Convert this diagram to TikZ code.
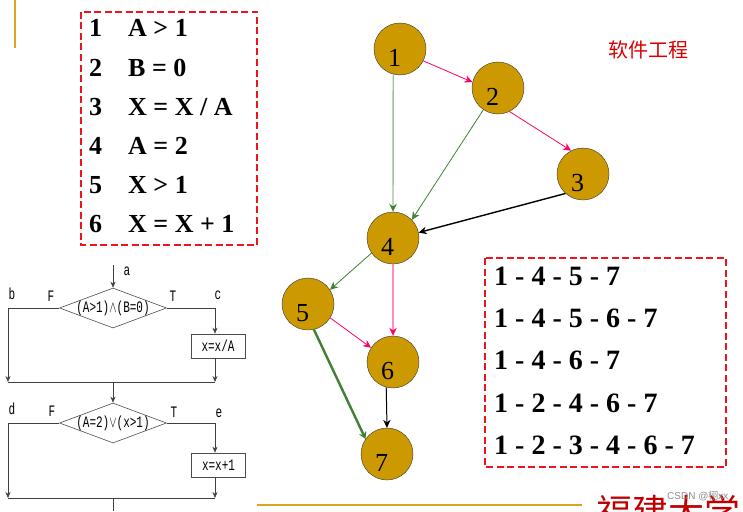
\documentclass[tikz,border=0pt]{standalone}
\usepackage{fontspec}
\usepackage{graphicx}
\setmainfont{Liberation Serif}
\newfontfamily\cjk{Noto Sans CJK SC}
\newfontfamily\flowfont{Liberation Mono}
\newfontfamily\markfont{Liberation Sans}
\usetikzlibrary{shapes.geometric, arrows.meta}
\definecolor{nodegold}{RGB}{204,153,0}
\definecolor{linegold}{RGB}{218,165,32}
\definecolor{edgepink}{RGB}{255,0,102}
\definecolor{edgegreen}{RGB}{64,128,50}
\definecolor{dashred}{RGB}{238,20,30}
\newcommand{\tallstr}[1]{\scalebox{1}[1.45]{#1}}
\tikzset{
    vnum/.style={font=\fontsize{26}{26}\selectfont, xshift=-5.5pt, yshift=-9pt, inner sep=0pt},
    vertex/.style={circle, draw=black!80, fill=nodegold, minimum size=52pt, inner sep=0pt,
        label={[vnum]center:#1}},
    pinkedge/.style={edgepink, line width=0.8pt, -{Stealth[length=8pt,width=7.5pt]}},
    greenedge/.style={edgegreen, line width=0.8pt, -{Stealth[length=8pt,width=7.5pt]}},
    blackedge/.style={black, line width=1pt, -{Stealth[length=8pt,width=7.5pt]}},
    dashbox/.style={draw=dashred, line width=1.6pt, dash pattern=on 7pt off 3.5pt},
    condline/.style={font=\bfseries\fontsize{26}{26}\selectfont, inner sep=0pt, anchor=base west},
    pathline/.style={font=\bfseries\fontsize{28}{28}\selectfont, inner sep=0pt, anchor=base west},
    flowtxt/.style={font=\flowfont\fontsize{11}{11}\selectfont, inner sep=0pt},
    cond/.style={diamond, draw=black!70, line width=0.6pt, aspect=2.7, inner sep=0pt,
        minimum width=107pt, minimum height=40pt, font=\flowfont\fontsize{11}{11}\selectfont},
    action/.style={rectangle, draw=black!70, line width=0.6pt, minimum width=54pt, minimum height=24pt,
        inner sep=0pt, font=\flowfont\fontsize{11}{11}\selectfont},
    flow/.style={black!75, line width=0.6pt},
    flowarrow/.style={flow, -{Stealth[length=6pt,width=5pt]}},
}
\begin{document}
\begin{tikzpicture}[x=1pt, y=-1pt, >=stealth]
    \useasboundingbox (0,0) rectangle (743,511);

    % page decoration
    \draw[linegold, line width=1.2pt] (15,0) -- (15,48);
    \draw[linegold, line width=1.2pt] (257,505) -- (582,505);
    \node[red!85!black, inner sep=0pt] (title) at (648,50)
        {\cjk\fontsize{20}{20}\selectfont 软件工程};
    \begin{scope}
        \clip (590,485) rectangle (743,511);
        \node[red!75!black, inner sep=0pt, anchor=west] (logo) at (596,512)
            {\cjk\fontsize{36}{36}\selectfont 福建大学};
    \end{scope}
    \node[black!45, inner sep=0pt, anchor=west] (mark) at (667,496)
        {\markfont\fontsize{10}{10}\selectfont CSDN @\cjk 栩\markfont xx};

    % conditions
    \draw[dashbox] (81,12) rectangle (257,245);
    \foreach \rowy/\num/\txt in {37/1/A > 1, 76/2/B = 0, 115/3/{X = X / A}, 154/4/A = 2, 193/5/X > 1, 232/6/X = X + 1} {
        \node[condline] at (89,\rowy) {\num};
        \node[condline] at (128,\rowy) {\txt};
    }

    % paths
    \draw[dashbox] (485,258) rectangle (726,467);
    \node[pathline] at (494,285) {1 - 4 - 5 - 7};
    \node[pathline] at (494,327) {1 - 4 - 5 - 6 - 7};
    \node[pathline] at (494,369) {1 - 4 - 6 - 7};
    \node[pathline] at (494,412) {1 - 2 - 4 - 6 - 7};
    \node[pathline] at (494,454) {1 - 2 - 3 - 4 - 6 - 7};

    % flow graph
    \node[vertex=1] (n1) at (400,49) {};
    \node[vertex=2] (n2) at (498,88) {};
    \node[vertex=3] (n3) at (583,174) {};
    \node[vertex=4] (n4) at (393,238) {};
    \node[vertex=5] (n5) at (308,304) {};
    \node[vertex=6] (n6) at (393,362) {};
    \node[vertex=7] (n7) at (387,454) {};

    \draw[pinkedge] (n1.-27) -- (n2.167);
    \draw[pinkedge] (n2.-64) -- (n3.117);
    \draw[greenedge, edgegreen!50, line width=1.4pt, -{Stealth[length=8pt,width=7.5pt,color=edgegreen]}] (n1.255) -- (n4.north);
    \draw[greenedge] (n2.236) -- (n4.44);
    \draw[blackedge, line width=1.4pt] (n3.228) -- (n4.12);
    \draw[greenedge] (n4.215) -- (n5.33);
    \draw[pinkedge, edgepink!45, line width=1.4pt, -{Stealth[length=8pt,width=7.5pt,color=edgepink]}] (n4) -- (n6);
    \draw[pinkedge] (n5.-32) -- (n6.147);
    \draw[greenedge, line width=2.4pt, -{Stealth[length=7pt,width=8pt]}] (n5.-77) -- (n7.145);
    \draw[blackedge] (n6.255) -- (n7.north);

    % program flow chart
    \coordinate (start) at (113,265);
    \node[cond] (d1) at (113,308) {\makebox[0pt]{\tallstr{(A>1)$\wedge$(B=0)}}};
    \node[action] (x1) at (218,346) {\tallstr{x=x/A}};
    \coordinate (j1l) at (8,382);
    \coordinate (j1r) at (215,382);
    \coordinate (j1m) at (113,382);
    \node[cond] (d2) at (113,423) {\makebox[0pt]{\tallstr{(A=2)$\vee$(x>1)}}};
    \node[action] (x2) at (218.5,465) {\tallstr{x=x+1}};
    \coordinate (j2l) at (8,498);
    \coordinate (j2r) at (215,498);
    \coordinate (j2m) at (113,498);
    \coordinate (stop) at (113,511);

    \draw[flowarrow] (start) -- (d1.north);
    \draw[flowarrow] (d1.west) -| (j1l);
    \draw[flowarrow] (d1.east) -| (x1.north -| j1r);
    \draw[flowarrow] (x1.south -| j1r) -- (j1r);
    \draw[flow] (j1l) -- (j1r);
    \draw[flowarrow] (j1m) -- (d2.north);
    \draw[flowarrow] (d2.west) -| (j2l);
    \draw[flowarrow] (d2.east) -| (x2.north -| j2r);
    \draw[flowarrow] (x2.south -| j2r) -- (j2r);
    \draw[flow] (j2l) -- (j2r);
    \draw[flow] (j2m) -- (stop);

    \node[flowtxt] at (127,271) {\tallstr{a}};
    \node[flowtxt] at (12,294) {\tallstr{b}};
    \node[flowtxt] at (51,296) {\tallstr{F}};
    \node[flowtxt] at (173,296) {\tallstr{T}};
    \node[flowtxt] at (218,295) {\tallstr{c}};
    \node[flowtxt] at (12,409) {\tallstr{d}};
    \node[flowtxt] at (52,411) {\tallstr{F}};
    \node[flowtxt] at (174,412) {\tallstr{T}};
    \node[flowtxt] at (219,413) {\tallstr{e}};
\end{tikzpicture}
\end{document}
